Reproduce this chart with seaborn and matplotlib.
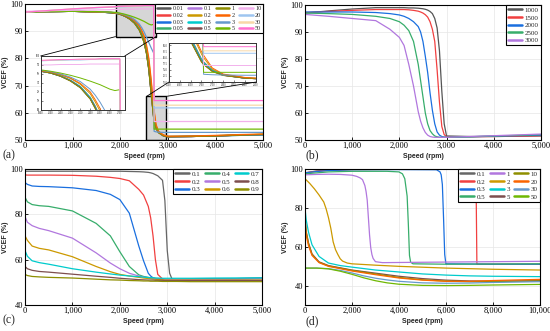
import matplotlib
matplotlib.use("Agg")
import matplotlib.pyplot as plt
from matplotlib.lines import Line2D
from matplotlib.patches import Rectangle, ConnectionPatch
from matplotlib.ticker import FuncFormatter, MultipleLocator
import pandas as pd
import seaborn as sns

# ---- panel (a): VCEF vs speed for several parameter values
A_SPEED = [0, 500, 1000, 1500, 1800, 1900, 2000, 2100, 2200, 2300, 2400, 2450, 2500,
           2550, 2600, 2650, 2700, 2710, 2750, 2800, 2900, 3000, 3500, 4000, 4500, 5000]
A_VCEF = {
    "0.01": [97.0, 97.2, 97.3, 97.1, 96.8, 96.6, 96.2, 95.5, 94.5, 93.0, 90.5, 88.5, 86.0,
             82.0, 76.0, 67.0, 58.5, 57.3, 54.5, 52.8, 51.6, 51.2, 51.3, 51.5, 51.8, 52.0],
    "0.02": [97.0, 97.2, 97.3, 97.1, 96.8, 96.6, 96.3, 95.6, 94.6, 93.2, 90.8, 88.9, 86.5,
             82.7, 77.0, 68.5, 59.5, 58.3, 55.0, 53.0, 51.7, 51.3, 51.3, 51.5, 51.8, 52.0],
    "0.03": [97.0, 97.2, 97.3, 97.1, 96.8, 96.6, 96.2, 95.5, 94.5, 93.1, 90.6, 88.6, 86.2,
             82.3, 76.4, 67.5, 59.0, 57.9, 54.7, 52.9, 51.6, 51.2, 51.3, 51.5, 51.7, 51.9],
    "0.05": [97.0, 97.2, 97.3, 97.1, 96.8, 96.6, 96.2, 95.5, 94.5, 93.0, 90.5, 88.5, 86.1,
             82.2, 76.2, 67.3, 58.8, 57.8, 54.6, 52.9, 51.6, 51.2, 51.3, 51.5, 51.7, 51.9],
    "0.1": [97.0, 97.2, 97.3, 97.1, 96.8, 96.6, 96.2, 95.5, 94.5, 93.0, 90.5, 88.5, 86.0,
            82.0, 76.0, 67.0, 58.5, 57.3, 54.5, 52.8, 51.6, 51.2, 51.3, 51.5, 51.8, 52.0],
    "0.2": [97.0, 97.2, 97.3, 97.1, 96.9, 96.7, 96.4, 95.8, 95.0, 93.7, 91.6, 89.8, 87.7,
            84.2, 79.0, 71.0, 61.5, 60.0, 55.3, 53.1, 51.8, 51.3, 51.4, 51.6, 51.9, 52.1],
    "0.3": [97.0, 97.2, 97.3, 97.1, 96.8, 96.6, 96.2, 95.6, 94.6, 93.2, 90.8, 88.8, 86.4,
            82.6, 76.8, 68.2, 59.3, 58.1, 54.8, 53.0, 51.7, 51.3, 51.4, 51.6, 51.8, 52.0],
    "0.5": [97.0, 97.2, 97.3, 97.1, 96.8, 96.6, 96.2, 95.5, 94.5, 93.0, 90.5, 88.5, 86.0,
            82.0, 76.0, 67.0, 58.5, 57.3, 54.5, 52.8, 51.6, 51.2, 51.3, 51.5, 51.8, 52.0],
    "1": [97.0, 97.2, 97.3, 97.1, 96.8, 96.6, 96.2, 95.5, 94.4, 92.9, 90.4, 88.3, 85.8,
          81.8, 75.7, 66.7, 58.2, 57.2, 54.3, 52.7, 51.6, 51.2, 51.3, 51.5, 51.8, 52.1],
    "2": [97.0, 97.2, 97.3, 97.1, 96.9, 96.7, 96.4, 95.9, 95.1, 93.9, 92.0, 90.3, 88.3,
          85.0, 80.0, 72.0, 62.5, 61.0, 55.8, 53.3, 51.9, 51.4, 51.5, 51.7, 52.0, 52.2],
    "3": [97.0, 97.2, 97.3, 97.2, 97.0, 96.8, 96.5, 96.0, 95.3, 94.3, 92.6, 91.3, 89.7,
          87.8, 85.8, 83.8, 82.0, 53.2, 53.0, 52.9, 52.8, 52.8, 52.8, 52.8, 52.8, 52.8],
    "5": [97.0, 97.2, 97.3, 97.2, 97.0, 96.9, 96.6, 96.2, 95.7, 95.1, 94.4, 94.0, 93.6,
          93.1, 92.6, 92.3, 92.5, 54.0, 54.0, 54.0, 54.0, 54.0, 54.0, 54.0, 54.0, 54.0],
    "10": [97.3, 97.5, 97.7, 97.8, 97.9, 98.0, 98.0, 98.1, 98.1, 98.1, 98.2, 98.2, 98.2,
           98.2, 98.2, 98.2, 98.2, 56.8, 56.8, 56.8, 56.8, 56.8, 56.8, 56.8, 56.8, 56.8],
    "20": [97.0, 97.6, 98.1, 98.6, 98.8, 98.9, 99.0, 99.0, 99.1, 99.1, 99.2, 99.2, 99.2,
           99.2, 99.2, 99.2, 99.2, 61.8, 61.8, 61.8, 61.8, 61.8, 61.8, 61.8, 61.8, 61.8],
    "30": [97.0, 97.6, 98.2, 98.7, 98.9, 99.0, 99.1, 99.1, 99.2, 99.2, 99.3, 99.3, 99.3,
           99.3, 99.3, 99.3, 99.3, 62.8, 62.8, 62.8, 62.8, 62.8, 62.8, 62.8, 62.8, 62.8],
    "50": [97.0, 97.6, 98.2, 98.7, 98.9, 99.0, 99.1, 99.2, 99.2, 99.3, 99.3, 99.3, 99.4,
           99.4, 99.4, 99.4, 99.4, 64.5, 64.5, 64.5, 64.5, 64.5, 64.5, 64.5, 64.5, 64.5],
}
A_COLORS = ["#555555", "#F14040", "#1A6FDF", "#37AD6B", "#B177DE", "#CC9900", "#00CBCC",
            "#7D4E4E", "#8E8E00", "#FB6501", "#6699CC", "#6FB802", "#F2B1EC", "#9EC5F0",
            "#F8D8A8", "#FF6FCF"]

# ---- panel (b)
B_SPEED = [0, 500, 1000, 1500, 1800, 2000, 2100, 2200, 2300, 2400, 2450, 2500, 2550,
           2600, 2650, 2700, 2750, 2800, 2850, 2900, 2950, 3000, 3500, 4000, 4500, 5000]
B_VCEF = {
    "1000": [97.0, 97.8, 98.5, 99.0, 99.0, 99.0, 99.0, 98.9, 98.9, 98.8, 98.7, 98.6, 98.4,
             98.1, 97.6, 96.8, 95.0, 91.5, 83.0, 68.0, 56.0, 51.5, 51.3, 51.3, 51.4, 51.5],
    "1500": [97.2, 97.6, 98.0, 98.3, 98.3, 98.3, 98.3, 98.2, 98.0, 97.7, 97.4, 97.0, 96.4,
             95.5, 93.8, 91.0, 86.5, 76.0, 64.0, 55.0, 52.0, 51.2, 51.2, 51.3, 51.4, 51.6],
    "2000": [97.4, 97.4, 97.4, 97.2, 96.8, 96.3, 95.8, 95.0, 93.8, 92.0, 90.0, 86.5, 81.0,
             75.0, 67.5, 61.0, 56.0, 53.0, 51.8, 51.3, 51.1, 51.0, 51.2, 51.4, 51.6, 51.8],
    "2500": [97.0, 96.8, 96.5, 95.8, 95.0, 93.8, 92.5, 90.5, 86.5, 78.0, 72.0, 66.0, 60.0,
             56.0, 53.5, 52.3, 51.5, 51.2, 51.0, 51.0, 51.0, 51.0, 51.2, 51.5, 51.7, 52.0],
    "3000": [96.5, 95.8, 95.0, 94.2, 91.0, 88.0, 85.0, 78.0, 70.0, 60.5, 57.0, 54.5, 52.8,
             51.8, 51.3, 51.1, 51.0, 51.0, 51.0, 51.0, 51.0, 51.0, 51.3, 51.6, 51.9, 52.2],
}
B_COLORS = ["#555555", "#F14040", "#1A6FDF", "#37AD6B", "#B177DE"]

# ---- panel (c)
C_SPEED = [0, 50, 150, 300, 500, 1000, 1500, 1800, 2000, 2200, 2400, 2500, 2600,
           2650, 2700, 2750, 2800, 2900, 2950, 3000, 3050, 3100, 3200, 3500, 4000, 5000]
C_VCEF = {
    "0.1": [99.0, 99.0, 99.0, 99.0, 99.0, 99.0, 99.0, 99.0, 99.0, 98.9, 98.8, 98.7, 98.5,
            98.3, 98.0, 97.5, 97.0, 95.0, 86.0, 64.0, 54.0, 51.5, 51.3, 51.3, 51.5, 51.8],
    "0.2": [97.4, 97.3, 97.3, 97.3, 97.3, 97.2, 96.8, 96.3, 95.8, 94.8, 91.0, 88.5, 83.5,
            78.5, 70.5, 60.0, 53.5, 51.5, 51.3, 51.2, 51.2, 51.2, 51.2, 51.3, 51.5, 51.8],
    "0.3": [94.0, 93.2, 92.5, 92.3, 92.2, 91.7, 90.5, 88.8, 86.5, 80.5, 66.0, 59.5, 54.0,
            52.8, 52.0, 51.6, 51.4, 51.2, 51.2, 51.2, 51.2, 51.2, 51.2, 51.3, 51.5, 51.8],
    "0.4": [87.5, 85.5, 84.3, 83.8, 83.5, 81.5, 76.0, 70.5, 63.5, 57.0, 53.3, 52.6, 52.2,
            52.0, 51.9, 51.8, 51.6, 51.4, 51.3, 51.3, 51.3, 51.3, 51.3, 51.4, 51.5, 51.7],
    "0.5": [79.0, 76.5, 75.0, 73.8, 72.8, 69.5, 63.0, 58.5, 56.0, 54.0, 52.8, 52.3, 52.0,
            51.8, 51.7, 51.6, 51.5, 51.3, 51.2, 51.2, 51.2, 51.2, 51.2, 51.2, 51.3, 51.5],
    "0.6": [70.5, 68.5, 66.0, 65.0, 64.3, 61.3, 57.0, 54.7, 53.5, 52.8, 52.2, 51.9, 51.7,
            51.6, 51.5, 51.4, 51.3, 51.1, 51.0, 51.0, 51.0, 51.0, 51.0, 51.0, 51.0, 51.0],
    "0.7": [64.0, 61.5, 59.5, 58.7, 58.0, 56.0, 54.5, 53.7, 53.2, 52.8, 52.5, 52.3, 52.1,
            52.0, 52.0, 51.9, 51.9, 51.8, 51.8, 51.8, 51.8, 51.8, 51.8, 51.8, 51.9, 52.0],
    "0.8": [57.0, 56.0, 55.3, 54.8, 54.5, 53.6, 52.7, 52.2, 51.8, 51.5, 51.2, 51.1, 51.0,
            51.0, 51.0, 50.9, 50.9, 50.9, 50.8, 50.8, 50.8, 50.8, 50.8, 50.8, 50.8, 50.8],
    "0.9": [53.5, 53.0, 52.6, 52.4, 52.2, 51.9, 51.4, 51.1, 51.0, 50.8, 50.7, 50.6, 50.6,
            50.5, 50.5, 50.5, 50.5, 50.4, 50.4, 50.4, 50.4, 50.4, 50.4, 50.3, 50.3, 50.3],
}
C_COLORS = ["#666666", "#F14040", "#1A6FDF", "#37AD6B", "#B177DE", "#CC9900", "#00CBCC",
            "#7D4E4E", "#8E8E00"]

# ---- panel (d): each curve has its own speed points
D_SPEED = {
    "0.1": [0, 500, 1000, 2000, 4000, 10000],
    "0.2": [0, 500, 1000, 2000, 4000, 7280, 7320, 8000, 10000],
    "0.3": [0, 500, 1000, 2000, 4000, 5600, 5750, 5800, 5850, 5900, 5950, 6000, 8000, 10000],
    "0.5": [0, 500, 1000, 2000, 3500, 4000, 4150, 4250, 4350, 4400, 4450, 4500, 4600, 6000, 10000],
    "1": [0, 500, 1000, 1500, 2000, 2200, 2350, 2450, 2550, 2600, 2650, 2700, 2750, 2800,
          2850, 2900, 3000, 3300, 5000, 8000, 10000],
    "2": [0, 200, 400, 600, 800, 900, 1000, 1100, 1200, 1300, 1400, 1500, 1600, 1800, 2000,
          3000, 4000, 6000, 8000, 10000],
    "3": [0, 50, 150, 300, 600, 1000, 1500, 2000, 3000, 4000, 5000, 6000, 7000, 8000, 10000],
    "5": [0, 50, 150, 300, 600, 1000, 2000, 3000, 4000, 5000, 6000, 7000, 8000, 10000],
    "10": [0, 50, 150, 300, 600, 1000, 2000, 3000, 4000, 5000, 6000, 7000, 8000, 10000],
    "20": [0, 50, 150, 300, 600, 1000, 2000, 3000, 4000, 5000, 6000, 7000, 8000, 10000],
    "30": [0, 500, 1000, 1500, 2000, 2500, 3000, 3500, 4000, 5000, 6000, 7000, 8000, 10000],
    "50": [0, 500, 1000, 1500, 2000, 2500, 3000, 3500, 4000, 5000, 6000, 7000, 8000, 10000],
}
D_VCEF = {
    "0.1": [98.0, 99.0, 99.5, 99.8, 99.9, 99.9],
    "0.2": [98.0, 98.8, 99.3, 99.7, 99.8, 99.8, 51.0, 51.0, 51.0],
    "0.3": [98.0, 98.7, 99.2, 99.6, 99.7, 99.6, 98.5, 97.0, 92.0, 75.0, 56.0, 51.2, 51.0, 51.0],
    "0.5": [97.5, 98.0, 98.5, 98.8, 98.8, 98.5, 97.5, 95.0, 86.0, 72.0, 55.5, 52.0, 51.2, 51.0, 51.2],
    "1": [97.0, 97.2, 97.3, 97.2, 96.8, 96.2, 95.4, 94.5, 91.5, 88.5, 84.0, 75.0, 66.0, 59.5,
          56.0, 54.0, 52.3, 51.8, 52.0, 52.3, 52.5],
    "2": [95.0, 92.6, 89.8, 86.6, 83.0, 79.5, 75.0, 69.5, 62.5, 58.5, 56.0, 53.8, 52.6, 51.6,
          51.2, 50.5, 49.9, 49.0, 48.4, 48.0],
    "3": [80.0, 74.0, 67.5, 61.0, 55.0, 51.6, 50.3, 49.5, 48.0, 47.0, 46.0, 45.4, 45.0, 44.8, 44.6],
    "5": [75.5, 68.0, 62.0, 56.3, 52.2, 50.3, 48.0, 46.4, 44.8, 43.6, 42.8, 42.4, 42.3, 42.5],
    "10": [74.5, 67.5, 61.5, 56.0, 52.0, 50.1, 47.8, 46.0, 44.2, 43.0, 42.3, 42.0, 42.1, 42.4],
    "20": [72.5, 66.0, 60.5, 55.5, 51.8, 49.9, 47.5, 45.6, 43.9, 42.8, 42.2, 42.2, 42.6, 43.2],
    "30": [49.0, 49.0, 48.7, 47.8, 46.5, 45.0, 43.8, 42.9, 42.2, 41.4, 41.2, 41.3, 41.6, 42.0],
    "50": [49.0, 49.0, 48.6, 47.4, 45.8, 44.0, 42.5, 41.4, 40.7, 40.1, 40.0, 40.1, 40.3, 40.6],
}
D_COLORS = ["#666666", "#F14040", "#1A6FDF", "#37AD6B", "#B177DE", "#CC9900", "#00CBCC",
            "#7D4E4E", "#8E8E00", "#FB6501", "#6699CC", "#6FB802"]

# zoom windows of panel (a): (speed range, VCEF range)
LEFT_ZOOM = ((1900, 2750), (88, 100))
RIGHT_ZOOM = ((2550, 2950), (50, 66))

SERIF = ["Liberation Serif", "DejaVu Serif"]
SANS = ["Liberation Sans", "DejaVu Sans"]

sns.set_theme(style="ticks")
plt.rcParams["font.family"] = SERIF
plt.rcParams["axes.edgecolor"] = "black"


def long_frame(speeds, values):
    rows = []
    for label, vcef in values.items():
        x = speeds[label] if isinstance(speeds, dict) else speeds
        for s, v in zip(x, vcef):
            rows.append({"speed": s, "vcef": v, "series": label})
    return pd.DataFrame(rows)


def draw_curves(ax, speeds, values, colors, lw=0.9):
    df = long_frame(speeds, values)
    palette = dict(zip(values.keys(), colors))
    sns.lineplot(data=df, x="speed", y="vcef", hue="series", hue_order=list(values),
                 palette=palette, estimator=None, sort=False, lw=lw, legend=False, ax=ax)
    return palette


def style_axes(ax, xmax, xstep, ylim, ystep):
    ax.set_xlim(0, xmax)
    ax.set_ylim(*ylim)
    ax.xaxis.set_major_locator(MultipleLocator(xstep))
    ax.yaxis.set_major_locator(MultipleLocator(ystep))
    ax.xaxis.set_major_formatter(FuncFormatter(lambda v, _: f"{v:,.0f}"))
    ax.grid(True, color="#e6e6e6", lw=0.5)
    ax.tick_params(direction="in", length=2.5, width=0.6, labelsize=6, pad=1.5,
                   colors="black")
    ax.set_xlabel("Speed (rpm)", fontsize=5, fontweight="bold", family=SANS, labelpad=2)
    ax.set_ylabel("VCEF (%)", fontsize=5, fontweight="bold", family=SANS, labelpad=1)
    for sp in ax.spines.values():
        sp.set_linewidth(0.8)
        sp.set_color("black")


def add_legend(ax, palette, ncol, fontsize=5, handlelength=2.0, colsp=0.6):
    handles = [Line2D([], [], color=c, lw=1.8) for c in palette.values()]
    leg = ax.legend(handles, list(palette), ncol=ncol, loc="upper right",
                    bbox_to_anchor=(1, 1), borderaxespad=0, frameon=True, fancybox=False,
                    edgecolor="black", framealpha=1, fontsize=fontsize,
                    handlelength=handlelength, handletextpad=0.4, columnspacing=colsp,
                    labelspacing=0.25, borderpad=0.3)
    leg.get_frame().set_linewidth(0.8)


def zoom_box(fig, ax, ins, xlim, ylim, links):
    ax.add_patch(Rectangle((xlim[0], ylim[0]), xlim[1] - xlim[0], ylim[1] - ylim[0],
                           fc="#d6d6d6", ec="black", lw=1.0, zorder=1.5))
    for a, b in links:
        fig.add_artist(ConnectionPatch(xyA=a, coordsA=ins.transAxes, xyB=b,
                                       coordsB=ax.transData, color="black", lw=0.6))


fig = plt.figure(figsize=(5.5, 3.31), dpi=100)
ax_a = fig.add_axes([0.0455, 0.577, 0.433, 0.411])
ax_b = fig.add_axes([0.5545, 0.577, 0.429, 0.408])
ax_c = fig.add_axes([0.0455, 0.0785, 0.431, 0.411])
ax_d = fig.add_axes([0.5545, 0.0785, 0.427, 0.411])

pal_a = draw_curves(ax_a, A_SPEED, A_VCEF, A_COLORS)
style_axes(ax_a, 5000, 1000, (50, 100), 10)
add_legend(ax_a, pal_a, 4, fontsize=4.4, handlelength=2.2, colsp=0.7)

pal_b = draw_curves(ax_b, B_SPEED, B_VCEF, B_COLORS)
style_axes(ax_b, 5000, 1000, (50, 100), 10)
add_legend(ax_b, pal_b, 1)

pal_c = draw_curves(ax_c, C_SPEED, C_VCEF, C_COLORS)
style_axes(ax_c, 5000, 1000, (40, 100), 20)
add_legend(ax_c, pal_c, 3)

pal_d = draw_curves(ax_d, D_SPEED, D_VCEF, D_COLORS)
style_axes(ax_d, 10000, 2000, (30, 100), 20)
add_legend(ax_d, pal_d, 3)

# zoomed insets of panel (a)
ins_l = fig.add_axes([0.074, 0.668, 0.153, 0.163])
ins_r = fig.add_axes([0.307, 0.752, 0.158, 0.118])
for ins, (xl, yl) in ((ins_l, LEFT_ZOOM), (ins_r, RIGHT_ZOOM)):
    draw_curves(ins, A_SPEED, A_VCEF, A_COLORS, lw=0.7)
    ins.set_xlim(*xl)
    ins.set_ylim(*yl)
    ins.set_xlabel("")
    ins.set_ylabel("")
    ins.tick_params(direction="in", length=1.2, width=0.4, labelsize=2, pad=0.8)
    for sp in ins.spines.values():
        sp.set_linewidth(0.7)
        sp.set_color("#333333")

(x0, x1), (y0, y1) = LEFT_ZOOM
zoom_box(fig, ax_a, ins_l, LEFT_ZOOM[0], LEFT_ZOOM[1],
         [((0, 1), (x0, y0)), ((1, 1), (x1, y0))])
(x0, x1), (y0, y1) = RIGHT_ZOOM
zoom_box(fig, ax_a, ins_r, RIGHT_ZOOM[0], RIGHT_ZOOM[1],
         [((0, 0), (x0, y1)), ((1, 0), (x1, y1))])

for txt, x, y in (("(a)", 0.004, 0.532), ("(b)", 0.556, 0.532),
                  ("(c)", 0.004, 0.033), ("(d)", 0.556, 0.030)):
    fig.text(x, y, txt, fontsize=8.5, va="center", ha="left")

fig.savefig("out.png", dpi=100)
